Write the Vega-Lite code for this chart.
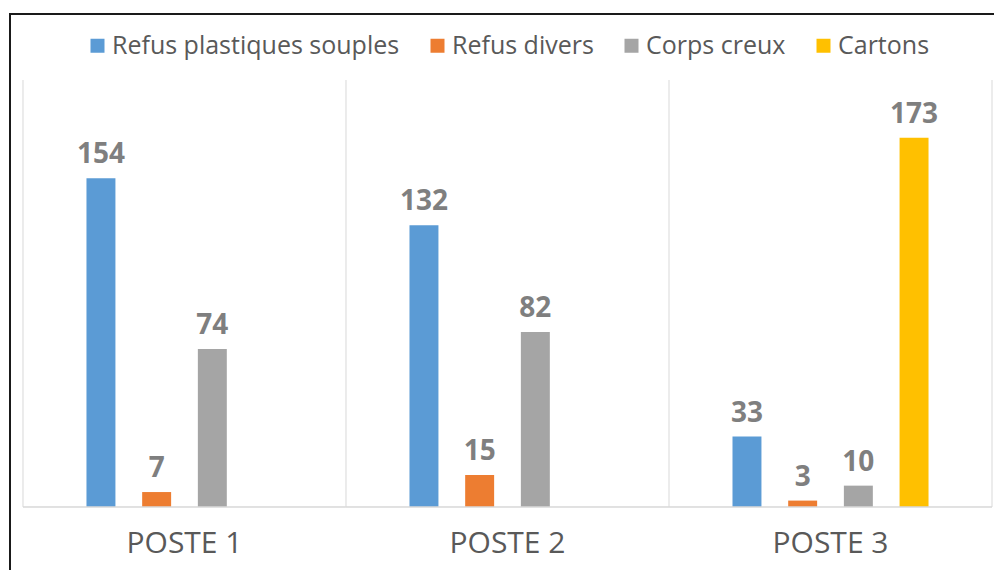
{
  "$schema": "https://vega.github.io/schema/vega-lite/v6.json",
  "autosize": {"type": "none"},
  "padding": {"left": 10, "top": 14, "right": 0, "bottom": 0},
  "width": 995,
  "height": 600,
  "background": "white",
  "config": {
    "view": {"stroke": "#1a1a1a", "strokeWidth": 2},
    "font": "Open Sans"
  },
  "datasets": {
    "bars": [
      {"Poste": "POSTE 1", "Categorie": "Refus plastiques souples", "Valeur": 154},
      {"Poste": "POSTE 1", "Categorie": "Refus divers", "Valeur": 7},
      {"Poste": "POSTE 1", "Categorie": "Corps creux", "Valeur": 74},
      {"Poste": "POSTE 2", "Categorie": "Refus plastiques souples", "Valeur": 132},
      {"Poste": "POSTE 2", "Categorie": "Refus divers", "Valeur": 15},
      {"Poste": "POSTE 2", "Categorie": "Corps creux", "Valeur": 82},
      {"Poste": "POSTE 3", "Categorie": "Refus plastiques souples", "Valeur": 33},
      {"Poste": "POSTE 3", "Categorie": "Refus divers", "Valeur": 3},
      {"Poste": "POSTE 3", "Categorie": "Corps creux", "Valeur": 10},
      {"Poste": "POSTE 3", "Categorie": "Cartons", "Valeur": 173}
    ],
    "postes": [
      {"Poste": "POSTE 1"},
      {"Poste": "POSTE 2"},
      {"Poste": "POSTE 3"}
    ]
  },
  "encoding": {
    "x": {
      "field": "Poste",
      "type": "nominal",
      "axis": null,
      "scale": {"domain": ["POSTE 1", "POSTE 2", "POSTE 3"], "paddingInner": 0, "paddingOuter": 0.0402}
    }
  },
  "layer": [
    {
      "data": {"name": "postes"},
      "mark": {"type": "rule", "color": "#d9d9d9", "strokeWidth": 1},
      "encoding": {
        "x": {"field": "Poste", "type": "nominal", "bandPosition": 0},
        "y": {"datum": 0, "type": "quantitative", "axis": null, "scale": {"domain": [-50.12, 230.91], "nice": false, "zero": false}},
        "y2": {"datum": 200}
      }
    },
    {
      "data": {"name": "postes"},
      "transform": [{"filter": "datum.Poste == 'POSTE 3'"}],
      "mark": {"type": "rule", "color": "#d9d9d9", "strokeWidth": 1},
      "encoding": {
        "x": {"field": "Poste", "type": "nominal", "bandPosition": 1},
        "y": {"datum": 0, "type": "quantitative"},
        "y2": {"datum": 200}
      }
    },
    {
      "data": {"name": "bars"},
      "mark": {"type": "bar"},
      "encoding": {
        "xOffset": {
          "field": "Categorie",
          "type": "nominal",
          "scale": {"domain": [" ", "Refus plastiques souples", "Refus divers", "Corps creux", "Cartons", "  "], "paddingInner": 0.48, "paddingOuter": 0.14}
        },
        "y": {"field": "Valeur", "type": "quantitative"},
        "color": {
          "field": "Categorie",
          "type": "nominal",
          "scale": {
            "domain": ["Refus plastiques souples", "Refus divers", "Corps creux", "Cartons"],
            "range": ["#5b9bd5", "#ed7d31", "#a5a5a5", "#ffc000"]
          },
          "legend": {
            "orient": "none",
            "legendX": 75,
            "legendY": 19,
            "direction": "horizontal",
            "title": null,
            "padding": 0,
            "symbolType": "square",
            "symbolSize": 196,
            "symbolStrokeWidth": 0,
            "symbolOpacity": 1,
            "labelFontSize": 25,
            "labelFont": "Open Sans",
            "labelColor": "#595959",
            "labelOffset": 2,
            "labelLimit": 0,
            "columnPadding": 25
          }
        }
      }
    },
    {
      "data": {"name": "postes"},
      "mark": {"type": "rect", "fill": null, "stroke": "#d9d9d9", "strokeWidth": 1},
      "encoding": {
        "x": {"field": "Poste", "type": "nominal"},
        "y": {"datum": 0, "type": "quantitative"},
        "y2": {"datum": 0}
      }
    },
    {
      "data": {"name": "bars"},
      "mark": {"type": "text", "fontSize": 28, "fontWeight": "bold", "color": "#7f7f7f", "baseline": "alphabetic", "align": "center", "dy": -15},
      "encoding": {
        "xOffset": {"field": "Categorie", "type": "nominal"},
        "y": {"field": "Valeur", "type": "quantitative"},
        "text": {"field": "Valeur", "type": "quantitative"}
      }
    },
    {
      "data": {"name": "postes"},
      "mark": {"type": "text", "fontSize": 30, "color": "#595959", "baseline": "alphabetic", "align": "center"},
      "encoding": {
        "y": {"datum": -21.5, "type": "quantitative"},
        "text": {"field": "Poste", "type": "nominal"}
      }
    }
  ]
}
